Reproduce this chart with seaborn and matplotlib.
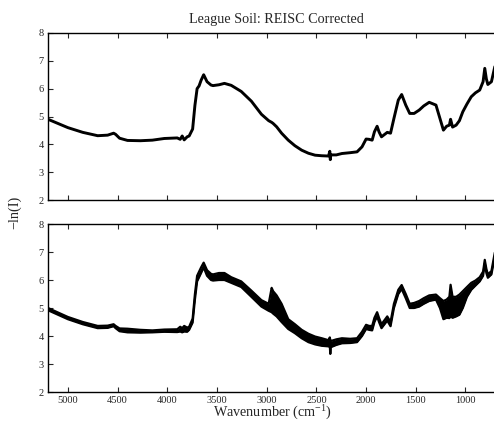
import numpy as np
import pandas as pd
import seaborn as sns
from matplotlib import pyplot as plt

sns.set_theme(style="ticks")
plt.rcParams['font.family'] = ['Liberation Serif', 'DejaVu Serif']
plt.rcParams['mathtext.fontset'] = 'custom'
plt.rcParams['mathtext.rm'] = 'Liberation Serif'
plt.rcParams['mathtext.it'] = 'Liberation Serif:italic'

# wavenumber grid (cm^-1)
wavenumber = [5200, 5000, 4850, 4700, 4600, 4540, 4520, 4480, 4400, 4270, 4150, 4030,
              3900, 3870, 3850, 3830, 3800, 3780, 3745, 3722, 3700, 3680, 3660, 3634,
              3600, 3560, 3540, 3480, 3425, 3357, 3256, 3154, 3053, 2980, 2950, 2935,
              2900, 2850, 2783, 2716, 2648, 2580, 2513, 2446, 2378, 2365, 2360, 2355,
              2300, 2243, 2160, 2091, 2041, 2000, 1970, 1939, 1916, 1889, 1870, 1845,
              1787, 1754, 1720, 1676, 1642, 1601, 1561, 1517, 1466, 1420, 1365, 1297,
              1257, 1222, 1190, 1162, 1150, 1130, 1094, 1061, 1027, 985, 942, 900,
              857, 823, 806, 790, 775, 739, 705, 683]

# top panel: corrected spectra (all nearly on top of each other)
top_abs = [4.90, 4.60, 4.43, 4.31, 4.33, 4.40, 4.36, 4.22, 4.14, 4.13, 4.15, 4.21,
           4.23, 4.18, 4.30, 4.16, 4.27, 4.30, 4.55, 5.40, 6.00, 6.10, 6.30, 6.50,
           6.25, 6.13, 6.11, 6.14, 6.19, 6.12, 5.90, 5.55, 5.08, 4.85, 4.79, 4.75,
           4.63, 4.40, 4.15, 3.95, 3.79, 3.68, 3.61, 3.59, 3.58, 3.75, 3.45, 3.62,
           3.62, 3.67, 3.70, 3.73, 3.91, 4.19, 4.18, 4.15, 4.45, 4.65, 4.45, 4.27,
           4.43, 4.40, 4.93, 5.59, 5.79, 5.41, 5.11, 5.11, 5.23, 5.38, 5.51, 5.41,
           4.93, 4.51, 4.65, 4.69, 4.90, 4.62, 4.69, 4.85, 5.17, 5.45, 5.71, 5.85,
           5.95, 6.25, 6.73, 6.35, 6.15, 6.25, 6.79, 6.87]

# bottom panel: envelope of the spectra (lowest / highest)
bot_low = [4.92, 4.60, 4.42, 4.28, 4.29, 4.35, 4.28, 4.17, 4.13, 4.12, 4.13, 4.15,
           4.14, 4.16, 4.13, 4.16, 4.15, 4.22, 4.48, 5.30, 5.95, 6.10, 6.25, 6.45,
           6.15, 6.00, 5.98, 6.00, 6.00, 5.90, 5.75, 5.40, 5.05, 4.90, 4.85, 4.80,
           4.70, 4.50, 4.25, 4.10, 3.92, 3.78, 3.70, 3.65, 3.63, 3.63, 3.36, 3.60,
           3.68, 3.74, 3.75, 3.78, 4.00, 4.25, 4.22, 4.20, 4.50, 4.70, 4.50, 4.28,
           4.55, 4.35, 5.00, 5.50, 5.68, 5.35, 5.00, 5.00, 5.05, 5.15, 5.25, 5.30,
           5.00, 4.60, 4.65, 4.64, 4.70, 4.65, 4.70, 4.76, 5.00, 5.40, 5.65, 5.80,
           5.95, 6.15, 6.60, 6.25, 6.08, 6.20, 6.85, 6.90]
bot_high = [5.00, 4.68, 4.50, 4.36, 4.37, 4.42, 4.36, 4.27, 4.26, 4.22, 4.20, 4.23,
            4.24, 4.33, 4.28, 4.36, 4.30, 4.33, 4.62, 5.50, 6.15, 6.30, 6.45, 6.62,
            6.35, 6.22, 6.20, 6.25, 6.25, 6.10, 5.95, 5.62, 5.28, 5.15, 5.72, 5.60,
            5.45, 5.15, 4.60, 4.42, 4.22, 4.08, 3.98, 3.92, 3.85, 3.95, 3.85, 3.82,
            3.88, 3.92, 3.90, 3.92, 4.15, 4.40, 4.36, 4.36, 4.65, 4.85, 4.65, 4.42,
            4.70, 4.50, 5.15, 5.65, 5.82, 5.50, 5.15, 5.18, 5.25, 5.35, 5.45, 5.48,
            5.35, 5.25, 5.30, 5.40, 5.83, 5.40, 5.40, 5.48, 5.60, 5.75, 5.90, 5.98,
            6.10, 6.30, 6.72, 6.40, 6.20, 6.32, 6.98, 7.00]

xticks = [5000, 4500, 4000, 3500, 3000, 2500, 2000, 1500, 1000]
yticks = [2, 3, 4, 5, 6, 7, 8]

fig = plt.figure(figsize=(4.94, 4.28), dpi=100)
W, H = 494, 428
ax_top = fig.add_axes([48 / W, 1 - 200 / H, (497 - 48) / W, 167 / H])
ax_bot = fig.add_axes([48 / W, 1 - 392 / H, (497 - 48) / W, 168 / H])

df_top = pd.DataFrame({'wn': wavenumber, 'a': top_abs})
sns.lineplot(data=df_top, x='wn', y='a', ax=ax_top, color='black', linewidth=2.1,
             sort=False, estimator=None)

ax_bot.fill_between(wavenumber, bot_low, bot_high, color='black', linewidth=0)
sns.lineplot(x=wavenumber, y=bot_low, ax=ax_bot, color='black', linewidth=1.6,
             sort=False, estimator=None)
sns.lineplot(x=wavenumber, y=bot_high, ax=ax_bot, color='black', linewidth=1.6,
             sort=False, estimator=None)

for ax in (ax_top, ax_bot):
    ax.set_xlim(5200, 683)
    ax.set_ylim(2, 8)
    ax.set_xticks(xticks)
    ax.set_yticks(yticks)
    ax.set_xlabel('')
    ax.set_ylabel('')
    ax.tick_params(direction='in', length=3.5, width=0.8, labelsize=7.5,
                   top=True, bottom=True, left=True, right=False, pad=3)
    for s in ax.spines.values():
        s.set_linewidth(1.0)
        s.set_color('black')
ax_top.tick_params(labelbottom=False)
ax_bot.set_xticklabels([str(t) for t in xticks])

fig.text(0.559, 1 - 20 / H, 'League Soil: REISC Corrected', ha='center', va='center',
         fontsize=10.2)
fig.text(272 / W, 1 - 413 / H, 'Wavenumber (cm$^{-1}$)', ha='center', va='center',
         fontsize=10.2)
fig.text(15 / W, 1 - 212 / H, '\u2212ln(I)', ha='center', va='center', rotation=90,
         fontsize=10.2)

fig.savefig('out.png', dpi=100)
